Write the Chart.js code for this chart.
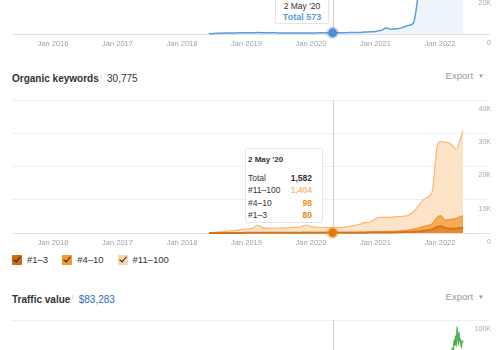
<!DOCTYPE html>
<html>
<head>
<meta charset="utf-8">
<script src="https://cdn.jsdelivr.net/npm/chart.js@4.4.1/dist/chart.umd.min.js"></script>
<style>
  html, body { margin: 0; padding: 0; }
  body { width: 500px; height: 350px; overflow: hidden; position: relative; background: #fff;
         font-family: "Liberation Sans", Arial, sans-serif; color: #333; }
  canvas { position: absolute; left: 0; }
  #trafficChart { top: -60px; }
  #keywordsChart { top: 90px; }
  #valueChart { top: 310px; }
  .head { position: absolute; left: 12px; font-size: 10px; white-space: nowrap; line-height: 12px; }
  .head b { color: #333; }
  .head sup { font-size: 6px; color: #b0b0b0; margin: 0 5px 0 2px; vertical-align: 4px; }
  .export { position: absolute; right: 16px; font-size: 9.5px; color: #9a9a9a; line-height: 12px; }
  .export span { font-size: 6px; margin-left: 5px; vertical-align: 1px; }
  .tip { position: absolute; background: #fff; border: 1px solid #e4e4e4; border-radius: 2px; box-sizing: border-box; font-size: 8.5px; }
  .tip .t { position: absolute; left: 0; right: 0; text-align: center; line-height: 11px; }
  #kwTip .title { position: absolute; left: 2px; top: 5px; font-weight: bold; font-size: 8px; line-height: 11px; }
  #kwTip .row { position: absolute; left: 2px; right: 10px; height: 12px; line-height: 12px; }
  #kwTip .row b { position: absolute; right: 0; top: 0; }
  #legend { position: absolute; left: 12px; top: 255px; display: flex; font-size: 9.5px; line-height: 10px; }
  #legend .item { display: flex; align-items: center; margin-right: 14px; }
  #legend .box { width: 10px; height: 10px; position: relative; margin-right: 5px; border-radius: 1px; }
  #legend .box::after { content: ""; position: absolute; left: 3px; top: 0px; width: 3px; height: 6px;
         border-right: 1.5px solid #222; border-bottom: 1.5px solid #222; transform: rotate(40deg); }
</style>
</head>
<body>
<canvas id="trafficChart" width="500" height="113"></canvas>
<canvas id="keywordsChart" width="500" height="162"></canvas>
<canvas id="valueChart" width="500" height="162"></canvas>

<div class="tip" id="trafficTip" style="left:275px;top:-5px;width:54px;height:29px;">
  <div class="t" id="trafficTipDate" style="top:5px;color:#333;"></div>
  <div class="t" id="trafficTipTotal" style="top:16px;color:#5b9bd8;font-weight:bold;font-size:9px;"></div>
</div>

<div class="head" style="top:70px;"><b>Organic keywords</b><sup>i</sup>30,775</div>
<div class="export" style="top:70px;">Export<span>▼</span></div>

<div class="tip" id="kwTip" style="left:245px;top:148px;width:78px;height:75px;">
  <div class="title" id="kwTipDate"></div>
  <div id="kwTipRows"></div>
</div>

<div id="legend"></div>

<div class="head" style="top:291px;"><b>Traffic value</b><sup>i</sup><span style="color:#2f6db5">$83,283</span></div>
<div class="export" style="top:291px;">Export<span>▼</span></div>

<script>
// Organic keywords / traffic history (one point per date)
const kwDates = [
  '2018-06-02', '2018-07-02', '2018-08-02', '2018-09-02', '2018-10-02', '2018-11-02', '2018-12-02',
  '2019-01-02', '2019-02-02', '2019-03-02', '2019-04-02', '2019-05-02', '2019-06-02',
  '2019-07-02', '2019-08-02', '2019-09-02', '2019-10-02', '2019-11-02', '2019-12-02',
  '2020-01-02', '2020-02-02', '2020-03-02', '2020-04-02', '2020-05-02', '2020-06-02',
  '2020-07-02', '2020-08-02', '2020-09-02', '2020-10-02', '2020-11-02', '2020-12-02',
  '2021-01-02', '2021-02-02', '2021-03-02', '2021-04-02', '2021-05-02', '2021-06-02',
  '2021-07-02', '2021-08-02', '2021-09-02', '2021-10-02', '2021-11-02', '2021-11-20', '2021-12-15',
  '2022-01-02', '2022-02-02', '2022-03-02', '2022-04-02', '2022-05-02', '2022-05-10'
];
const kwTop3 = [
  5, 10, 15, 20, 25, 30, 35,
  40, 45, 55, 50, 50, 55, 55, 60, 60, 65, 70, 80,
  75, 75, 78, 78, 80, 82, 85, 90, 95, 100, 110, 120,
  140, 150, 160, 180, 200, 250, 300, 400, 500, 700, 900, 1100, 1800,
  2000, 1500, 1300, 1400, 1500, 1580
];
const kwTop10 = [
  5, 15, 20, 25, 30, 35, 40,
  50, 55, 70, 60, 60, 65, 65, 70, 70, 75, 80, 100,
  90, 90, 95, 95, 98, 100, 110, 120, 130, 150, 170, 190,
  250, 280, 300, 340, 400, 480, 600, 800, 1000, 1300, 1500, 1800, 2800,
  3200, 2400, 2800, 3000, 3600, 3620
];
const kwTop100 = [
  40, 175, 315, 455, 595, 735, 925,
  1110, 1300, 2175, 1490, 1340, 1380, 1380, 1420, 1470, 1560, 1650, 2220,
  1735, 1535, 1477, 1427, 1404, 1418, 1505, 1790, 1975, 2350, 2820, 2990,
  3910, 4270, 4240, 4280, 4300, 4270, 4400, 5100, 6800, 8200, 8800, 10100, 21400,
  22300, 23400, 22700, 20800, 24400, 25575
];
const trafficTotal = [
  100, 250, 350, 450, 500, 550, 600,
  620, 650, 700, 650, 600, 580, 560, 550, 540, 530, 540, 560,
  550, 560, 570, 570, 573, 600, 650, 700, 750, 800, 1000, 1100,
  1300, 1800, 3000, 2400, 2600, 3200, 4200, 5400, 22000, 52000, 58000, 61000, 66000,
  70000, 72000, 74000, 71000, 78000, 80000
];

// Traffic value history
const valueDates = [
  '2018-06-02', '2018-12-02', '2019-06-02', '2019-12-02', '2020-05-02', '2020-12-02',
  '2021-03-02', '2021-06-02', '2021-08-02', '2021-09-02', '2021-10-02', '2021-12-02',
  '2022-01-02', '2022-02-15', '2022-03-05', '2022-03-09', '2022-03-14', '2022-03-20',
  '2022-03-24', '2022-03-28', '2022-04-02', '2022-04-06', '2022-04-10', '2022-04-14',
  '2022-04-17', '2022-04-21', '2022-04-25', '2022-04-30', '2022-05-05', '2022-05-10'
];
const valueAmounts = [
  100, 600, 800, 900, 950, 1800,
  3500, 5000, 8000, 30000, 42000, 50000,
  55000, 62000, 70000, 79000, 76000, 85000,
  81000, 88000, 80000, 95000, 88500, 81000,
  91000, 84000, 86000, 79000, 84500, 83283
];

const yearTicks = [2016, 2017, 2018, 2019, 2020, 2021, 2022];
const crossDate = '2020-05-02';

const FONT = '"Liberation Sans", Arial, sans-serif';
const MONTHS = ['Jan', 'Feb', 'Mar', 'Apr', 'May', 'Jun', 'Jul', 'Aug', 'Sep', 'Oct', 'Nov', 'Dec'];

function toYear(s) {
  const [y, m, d] = s.split('-').map(Number);
  return y + (m - 1) / 12 + (d - 1) / 365;
}
function pairs(dates, vals) {
  return dates.map((d, i) => ({ x: toYear(d), y: vals[i] }));
}
function niceDate(s) {
  const [y, m, d] = s.split('-').map(Number);
  return d + ' ' + MONTHS[m - 1] + " '" + String(y).slice(2);
}
const fmtK = v => v === 0 ? '0' : (v / 1000) + 'K';
const crossIdx = kwDates.indexOf(crossDate);
const crossX = toYear(crossDate);

function xScale() {
  return {
    type: 'linear', min: 2015.364, max: 2022.76,
    afterBuildTicks: axis => { axis.ticks = yearTicks.map(v => ({ value: v })); },
    grid: { display: false, drawTicks: false },
    border: { color: '#e2e2e2' },
    ticks: { padding: 5, color: '#a2a2a2', font: { size: 7.5, family: FONT }, maxRotation: 0,
             autoSkip: false, callback: v => 'Jan ' + v }
  };
}
function yScale(max, step) {
  return {
    position: 'right', min: 0, max: max, stacked: true,
    border: { display: false },
    grid: { color: c => c.tick.value === 0 ? '#e2e2e2' : '#f0f0f0', drawTicks: false },
    ticks: { stepSize: step, mirror: true, padding: 2, labelOffset: 9, color: '#a8a8a8',
             font: { size: 7, family: FONT }, callback: fmtK }
  };
}

const crosshair = {
  id: 'crosshair',
  beforeDatasetsDraw(chart) {
    const x = chart.scales.x.getPixelForValue(crossX);
    const a = chart.chartArea;
    const c = chart.ctx;
    c.save();
    c.strokeStyle = '#cfcfcf';
    c.lineWidth = 1;
    c.beginPath();
    c.moveTo(Math.round(x) + 0.5, a.top);
    c.lineTo(Math.round(x) + 0.5, a.bottom);
    c.stroke();
    c.restore();
  }
};

function baseOptions(top, max, step) {
  return {
    responsive: false, animation: false, events: [],
    layout: { padding: { left: 12, right: 7, top: top, bottom: 0 } },
    plugins: { legend: { display: false }, tooltip: { enabled: false } },
    elements: { line: { cubicInterpolationMode: 'monotone' } },
    scales: { x: xScale(), y: yScale(max, step) }
  };
}

// Organic traffic (only the bottom of this chart is on screen)
new Chart(document.getElementById('trafficChart'), {
  type: 'line',
  data: {
    datasets: [{
      label: 'Total',
      data: pairs(kwDates, trafficTotal),
      borderColor: '#5b9bd8', borderWidth: 1.5,
      backgroundColor: '#edf4fc', fill: 'origin', clip: false,
      pointRadius: c => c.dataIndex === crossIdx ? 4.5 : 0,
      pointBackgroundColor: '#4a8fd6',
      pointBorderColor: 'rgba(74,143,214,0.3)', pointBorderWidth: 3.5
    }]
  },
  options: baseOptions(14, 40000, 20000),
  plugins: [crosshair]
});

// Organic keywords, stacked by position
const kwSeries = [
  { label: '#1–3', data: kwTop3, line: '#d9731a', fill: '#e48a2f', box: '#cf6a10', text: '#e0861a' },
  { label: '#4–10', data: kwTop10, line: '#f29530', fill: '#f6ab57', box: '#f2992c', text: '#f0920f' },
  { label: '#11–100', data: kwTop100, line: '#f8b877', fill: '#fde3c7', box: '#fcd6aa', text: '#f6c08a' }
];
const kwChart = new Chart(document.getElementById('keywordsChart'), {
  type: 'line',
  data: {
    datasets: kwSeries.map((s, i) => ({
      label: s.label,
      data: pairs(kwDates, s.data),
      borderColor: s.line, borderWidth: i === 0 ? 2 : 1.2,
      backgroundColor: s.fill, fill: i === 0 ? 'origin' : '-1', clip: false,
      pointRadius: c => (i === 0 && c.dataIndex === crossIdx) ? 4.5 : 0,
      pointBackgroundColor: '#df7606',
      pointBorderColor: 'rgba(240,150,50,0.35)', pointBorderWidth: 3.5
    }))
  },
  options: baseOptions(10, 40000, 10000),
  plugins: [crosshair]
});

// Traffic value (only the top of this chart is on screen)
new Chart(document.getElementById('valueChart'), {
  type: 'line',
  data: {
    datasets: [{
      label: 'Traffic value',
      data: pairs(valueDates, valueAmounts),
      borderColor: '#4cae4c', borderWidth: 1.2, fill: false, pointRadius: 0
    }]
  },
  options: baseOptions(10, 100000, 25000),
  plugins: [crosshair]
});

// tooltips
document.getElementById('trafficTipDate').textContent = niceDate(crossDate);
document.getElementById('trafficTipTotal').textContent = 'Total ' + trafficTotal[crossIdx].toLocaleString('en-US');

document.getElementById('kwTipDate').textContent = niceDate(crossDate);
const total = kwTop3[crossIdx] + kwTop10[crossIdx] + kwTop100[crossIdx];
const rows = [{ label: 'Total', value: total, color: '#333' }]
  .concat(kwSeries.slice().reverse().map(s => ({ label: s.label, value: s.data[crossIdx], color: s.text })));
document.getElementById('kwTipRows').innerHTML = rows.map((r, i) =>
  `<div class="row" style="top:${23 + i * 12.4}px">${r.label}<b style="color:${r.color}">${r.value.toLocaleString('en-US')}</b></div>`
).join('');

// legend with checkboxes
document.getElementById('legend').innerHTML = kwChart.data.datasets.map((d, i) =>
  `<div class="item"><span class="box" style="background:${kwSeries[i].box}"></span>${d.label}</div>`
).join('');
</script>
</body>
</html>
